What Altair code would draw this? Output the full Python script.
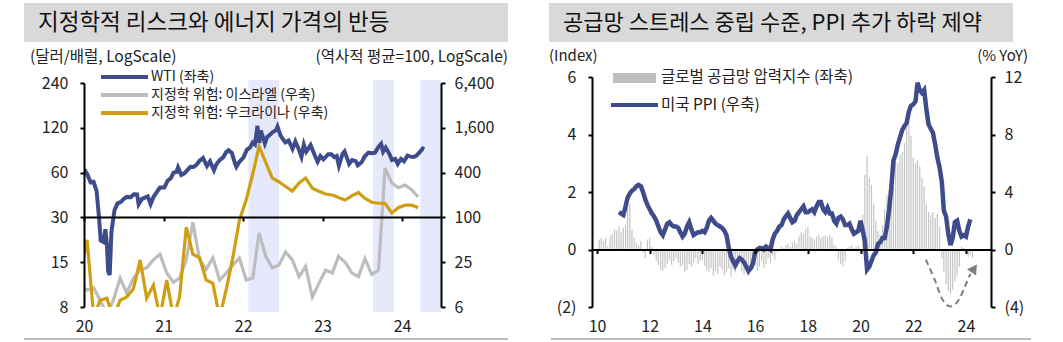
import json
import altair as alt
import pandas as pd

FONT = "Noto Sans CJK KR"
NAVY = "#3E4C8B"
GOLD = "#CF9E12"
LGRAY = "#BDBDBD"
BAND = "#E5E9FB"
TXT = "#222222"

# ---------------- left panel data ----------------
left_title = "지정학적 리스크와 에너지 가격의 반등"
left_axis_title_l = "(달러/배럴, LogScale)"
left_axis_title_r = "(역사적 평균=100, LogScale)"
left_legend = ["WTI (좌축)", "지정학 위험: 이스라엘 (우축)", "지정학 위험: 우크라이나 (우축)"]

wti_dates = [
    "2020-01-02", "2020-01-16", "2020-01-31", "2020-02-14", "2020-02-28", "2020-03-09", "2020-03-18",
    "2020-03-31", "2020-04-08", "2020-04-15", "2020-04-21", "2020-04-28", "2020-05-06", "2020-05-20",
    "2020-06-03", "2020-06-17", "2020-07-01", "2020-07-15", "2020-08-03", "2020-08-17", "2020-09-01",
    "2020-09-08", "2020-09-22", "2020-10-06", "2020-10-20", "2020-11-02", "2020-11-16", "2020-12-01",
    "2020-12-15",
    "2021-01-04", "2021-01-19", "2021-02-02", "2021-02-16", "2021-03-01", "2021-03-08", "2021-03-23",
    "2021-04-06", "2021-04-20", "2021-05-04", "2021-05-18", "2021-06-01", "2021-06-15", "2021-07-01",
    "2021-07-19", "2021-08-02", "2021-08-20", "2021-09-01", "2021-09-15", "2021-10-01", "2021-10-15",
    "2021-10-26", "2021-11-10", "2021-11-26", "2021-12-01", "2021-12-15",
    "2022-01-03", "2022-01-18", "2022-02-01", "2022-02-14", "2022-02-24", "2022-03-08", "2022-03-16",
    "2022-03-23", "2022-04-11", "2022-04-21", "2022-05-04", "2022-05-17", "2022-06-01", "2022-06-08",
    "2022-06-22", "2022-07-05", "2022-07-14", "2022-07-29", "2022-08-16", "2022-08-29", "2022-09-15",
    "2022-09-26", "2022-10-07", "2022-10-18", "2022-11-07", "2022-11-28", "2022-12-09", "2022-12-22",
    "2023-01-05", "2023-01-27", "2023-02-10", "2023-02-24", "2023-03-07", "2023-03-17", "2023-04-03",
    "2023-04-12", "2023-05-03", "2023-05-17", "2023-06-02", "2023-06-12", "2023-06-30", "2023-07-13",
    "2023-07-31", "2023-08-15", "2023-08-30", "2023-09-13", "2023-09-27", "2023-10-06", "2023-10-18",
    "2023-11-03", "2023-11-16", "2023-12-01", "2023-12-12", "2023-12-27",
    "2024-01-10", "2024-01-26", "2024-02-09", "2024-02-23", "2024-03-08", "2024-03-20", "2024-04-05",
    "2024-04-12",
]
wti_values = [
    63, 58.5, 51.6, 52, 45, 31, 21, 20.5, 25, 20, 13, 12.3, 24, 33.5, 37.3, 38, 39.8, 41.2, 41, 42.9,
    42.8, 36.8, 39.8, 40.7, 41.5, 36.8, 41.3, 44.5, 47.6,
    47.6, 52.9, 54.8, 60, 60.6, 65, 57.8, 59.3, 62.4, 65.7, 65.5, 67.7, 72.1, 75.2, 66.4, 71.3, 62.3,
    68.6, 72.6, 75.9, 82.3, 84.6, 81.3, 68.2, 65.6, 70.9,
    76, 85.4, 88.2, 95.5, 92.8, 123.7, 95, 114.9, 94.3, 103.8, 107.8, 112.4, 115.3, 122.1, 106.2, 99.5,
    95.8, 98.6, 86.5, 97, 85.1, 76.7, 92.6, 82.8, 91.8, 77.2, 71, 77.5,
    73.7, 79.7, 79.7, 76.3, 77.6, 66.7, 80.4, 83.3, 68.6, 72.8, 71.7, 67.1, 70.6, 77, 81.8, 80.9, 81.6,
    88.5, 93.7, 82.8, 88.3, 80.5, 72.9, 74.1, 68.6, 74.1,
    71.4, 78, 76.8, 76.5, 78, 81.7, 86.9, 85.7,
]

# monthly geopolitical risk indices (mid-month), Dec 2019 .. Mar 2024
gpr_months = [d.strftime("%Y-%m-15") for d in pd.date_range("2019-12-01", "2024-03-01", freq="MS")]
israel_gpr = [
    12,
    10.6, 11.3, 7.7, 5, 7.7, 15.3, 9.6, 15.3, 19.6, 21, 27, 32,
    17.9, 13.4, 15.3, 26.8, 86, 27, 20, 28.6, 14.4, 17.9, 22.9, 28.6,
    14.4, 15.3, 61.6, 30, 20.9, 22.9, 34.4, 26.8, 16, 22, 8.5, 13,
    19.6, 17.9, 30, 25, 18, 16, 28, 17, 19.6, 460, 291, 250,
    272, 234, 188,
]
ukraine_gpr = [
    17,
    50, 4.5, 7.7, 8.2, 4.5, 7.7, 8.5, 11, 26.8, 8.2, 12.3, 4.5,
    14.4, 4.5, 8.5, 74, 32, 28.6, 14.4, 13, 4.5, 10.6, 29, 92,
    171, 392, 900, 550, 338, 300, 260, 226, 290, 338, 247, 225,
    206, 200, 185, 171, 195, 216, 180, 160, 155, 155, 115, 135,
    146, 146, 135,
]
band_start = ["2022-01-25", "2023-08-20", "2024-03-25"]
band_end = ["2022-06-15", "2023-11-25", "2024-06-28"]

wti_ticks = [7.5, 15, 30, 60, 120, 240]
wti_tick_labels = ["8", "15", "30", "60", "120", "240"]
gpr_ticks = [6.25, 25, 100, 400, 1600, 6400]
gpr_tick_labels = ["6", "25", "100", "400", "1,600", "6,400"]
left_years = [2020, 2021, 2022, 2023, 2024]

# ---------------- right panel data ----------------
right_title = "공급망 스트레스 중립 수준, PPI 추가 하락 제약"
right_axis_title_l = "(Index)"
right_axis_title_r = "(% YoY)"
right_legend = ["글로벌 공급망 압력지수 (좌축)", "미국 PPI (우축)"]

gscpi_months = [d.strftime("%Y-%m-%d") for d in pd.date_range("2010-01-01", "2024-04-01", freq="MS")]
gscpi_values = [
    0.05, 0.35, 0.40, 0.30, 0.42, 0.10, 0.45, 0.55, 0.70, 0.65, 0.80, 0.60,
    0.75, 0.85, 1.45, 1.60, 0.70, 0.40, 0.25, 0.15, 0.30, -0.10, -0.30, 0.35,
    0.40, 0.10, -0.20, -0.40, -0.55, -0.70, -0.75, -0.65, -0.50, -0.35, -0.55, -0.40,
    -0.30, -0.45, -0.60, -0.55, -0.80, -0.70, -0.50, -0.60, -0.45, -0.30, -0.50, -0.40,
    -0.35, -0.55, -0.70, -0.80, -0.65, -0.90, -0.75, -0.85, -0.60, -0.70, -0.90, -0.80,
    -0.65, -0.95, -0.70, -0.80, -0.60, -0.50, -0.75, -0.85, -0.70, -0.90, -0.60, -0.70,
    -0.55, -0.75, -0.60, -0.40, -0.65, -0.50, -0.30, -0.45, -0.20, -0.35, -0.10, -0.05,
    0.10, 0.05, 0.15, 0.20, 0.10, 0.25, 0.30, 0.20, 0.45, 0.60, 0.55, 0.70,
    0.80, 0.45, 0.40, 0.35, 0.45, 0.50, 0.40, 0.45, 0.50, 0.45, 0.50, 0.40,
    0.15, 0.10, -0.35, -0.50, -0.60, -0.40, 0.05, 0.10, 0.15, 0.05, 0.10, 0.15,
    -0.10, 1.20, 2.60, 3.25, 2.50, 2.25, 1.60, 1.00, 0.65, 0.50, 0.85, 1.40,
    1.90, 2.10, 2.40, 2.80, 3.10, 3.00, 3.30, 3.40, 3.70, 4.25, 4.35, 3.95,
    3.20, 3.00, 3.10, 2.90, 2.50, 2.20, 1.60, 1.30, 1.20, 1.30, 1.10, 1.25,
    0.80, -0.30, -0.80, -1.20, -1.45, -1.55, -1.40, -1.10, -0.95, -0.60, 0.10, 0.05,
    -0.10, -0.25, -0.20, -0.30,
]
ppi_months = [d.strftime("%Y-%m-%d") for d in pd.date_range("2010-11-01", "2024-03-01", freq="MS")]
ppi_values = [
    2.6, 2.5,
    2.4, 3.0, 3.6, 3.9, 4.1, 4.2, 4.4, 4.5, 4.4, 4.0, 3.5, 3.1,
    2.8, 2.5, 2.3, 2.0, 1.6, 1.2, 1.0, 1.4, 1.8, 1.9, 1.7, 1.6,
    1.6, 1.5, 1.2, 0.9, 1.1, 1.6, 1.9, 1.4, 1.0, 1.1, 1.2, 1.2,
    1.3, 1.2, 1.5, 2.0, 2.2, 2.0, 1.8, 1.7, 1.6, 1.5, 1.3, 1.0,
    0.1, -0.5, -0.8, -1.1, -0.8, -0.6, -0.7, -0.9, -1.2, -1.5, -1.3, -1.0,
    -0.2, 0.0, 0.1, 0.1, 0.0, 0.2, 0.1, 0.0, 0.7, 1.1, 1.3, 1.6,
    1.7, 2.1, 2.3, 2.5, 2.2, 1.9, 2.0, 2.4, 2.6, 2.8, 3.0, 2.6,
    2.6, 2.7, 2.8, 2.6, 3.0, 3.3, 3.3, 2.8, 2.6, 2.9, 2.5, 2.5,
    2.0, 1.8, 2.2, 2.3, 2.1, 1.7, 1.7, 1.8, 1.4, 1.1, 1.2, 1.3,
    2.0, 1.3, 0.6, -1.4, -1.2, -0.8, -0.4, -0.2, 0.4, 0.5, 0.8, 0.8,
    1.6, 2.8, 4.2, 6.2, 6.6, 7.3, 7.8, 8.3, 8.6, 8.8, 9.6, 10.0,
    10.1, 10.3, 11.6, 11.1, 10.9, 11.1, 9.8, 8.7, 8.4, 8.1, 7.3, 6.4,
    5.7, 4.7, 2.7, 2.3, 1.1, 0.3, 0.8, 1.9, 2.0, 1.3, 0.9, 1.0,
    0.9, 1.6, 2.1,
]
# dashed "rebound" arrow (in index units)
arrow_dates = ["2022-06-24", "2022-10-23", "2023-02-10", "2023-05-30", "2023-09-27", "2023-12-17", "2024-03-01"]
arrow_values = [-0.35, -1.04, -1.74, -1.98, -1.74, -1.29, -0.85]
arrow_head_date = ["2024-04-25"]
arrow_head_value = [-0.66]

idx_ticks = [-2, 0, 2, 4, 6]
idx_tick_labels = ["(2)", "0", "2", "4", "6"]
ppi_ticks = [-4, 0, 4, 8, 12]
ppi_tick_labels = ["(4)", "0", "4", "8", "12"]
right_years = [2010, 2012, 2014, 2016, 2018, 2020, 2022, 2024]


# ---------------- helpers ----------------
def label_expr(vals, labs):
    return json.dumps(labs, ensure_ascii=False) + "[indexof(" + json.dumps(vals) + ", datum.value)]"


ONE = pd.DataFrame({"k": [0]})


def px_rect(x1, x2, y1, y2, color):
    return alt.Chart(ONE).mark_rect(color=color).encode(
        x=alt.value(x1), x2=alt.value(x2), y=alt.value(y1), y2=alt.value(y2))


def px_rule(x1, x2, y, color, width):
    return alt.Chart(ONE).mark_rule(color=color, strokeWidth=width).encode(
        x=alt.value(x1), x2=alt.value(x2), y=alt.value(y))


def px_text(x, y, text, size, align="left", color=TXT):
    return alt.Chart(pd.DataFrame({"t": [text]})).mark_text(
        align=align, baseline="middle", fontSize=size, color=color, font=FONT
    ).encode(x=alt.value(x), y=alt.value(y), text="t:N")


def dt(y, m=1, d=1):
    return alt.DateTime(year=y, month=m, date=d)


# ---------------- left chart ----------------
LW, LH = 357, 230
lx_scale = alt.Scale(domain=[dt(2020), dt(2024, 6, 28)], nice=False)
lx_axis = alt.Axis(values=[dt(y) for y in left_years], format="%y", labelFlush=False, offset=-90,
                   tickSize=4, labelPadding=97, title=None, zindex=1)


def lx(field):
    return alt.X(field, type="temporal", scale=lx_scale, axis=lx_axis)


bands_df = pd.DataFrame({"start": band_start, "end": band_end})
bands = alt.Chart(bands_df).mark_rect(color=BAND).encode(
    x=lx("start"), x2="end:T", y=alt.value(3), y2=alt.value(235))

n = len(gpr_months)
gpr_df = pd.DataFrame({
    "date": gpr_months * 2,
    "value": israel_gpr + ukraine_gpr,
    "series": ["이스라엘"] * n + ["우크라이나"] * n,
})
gpr = alt.Chart(gpr_df).mark_line(clip=True, strokeWidth=3.2).encode(
    x=lx("date"),
    y=alt.Y("value:Q",
            scale=alt.Scale(type="log", domain=[6.25, 6400], range=[LH, 6], nice=False),
            axis=alt.Axis(orient="right", values=gpr_ticks, labelExpr=label_expr(gpr_ticks, gpr_tick_labels),
                          tickSize=4, labelPadding=9, title=None, zindex=1)),
    color=alt.Color("series:N", scale=alt.Scale(domain=["이스라엘", "우크라이나"], range=[LGRAY, GOLD]),
                    legend=None),
)

wti_df = pd.DataFrame({"date": wti_dates, "value": wti_values})
wti = alt.Chart(wti_df).mark_line(clip=True, strokeWidth=4, color=NAVY).encode(
    x=lx("date"),
    y=alt.Y("value:Q",
            scale=alt.Scale(type="log", domain=[7.5, 240], range=[LH, 6], nice=False),
            axis=alt.Axis(orient="left", values=wti_ticks, labelExpr=label_expr(wti_ticks, wti_tick_labels),
                          tickSize=4, labelPadding=12, title=None, zindex=1)),
)

left = alt.layer(
    px_rect(-60, 424, -74, -35, "#D9D9D9"),
    px_text(-46, -54, left_title, 22.5, color="#111111"),
    px_rule(-60, 424, 262, "#A6A6A6", 1.5),
    px_text(-54, -20, left_axis_title_l, 15.5),
    px_text(424, -20, left_axis_title_r, 15.5, align="right"),
    bands,
    gpr,
    wti,
    px_rule(17, 64, 0, NAVY, 4),
    px_text(67, 0, left_legend[0], 14),
    px_rule(17, 64, 18, LGRAY, 4),
    px_text(67, 18, left_legend[1], 14),
    px_rule(17, 64, 36, GOLD, 4),
    px_text(67, 36, left_legend[2], 14),
).resolve_scale(y="independent").properties(width=LW, height=LH)

# ---------------- right chart ----------------
RW, RH = 399, 230
rx_scale = alt.Scale(domain=[dt(2010), dt(2024, 10, 5)], nice=False)
rx_axis = alt.Axis(values=[dt(y) for y in right_years], format="%y", labelFlush=False, offset=-57.5,
                   tickSize=4, labelPadding=65, title=None, zindex=1)


def rx(field):
    return alt.X(field, type="temporal", scale=rx_scale, axis=rx_axis)


def ry_idx(field):
    return alt.Y(field, type="quantitative", scale=alt.Scale(domain=[-2, 6], nice=False),
                 axis=alt.Axis(orient="left", values=idx_ticks, labelExpr=label_expr(idx_ticks, idx_tick_labels),
                               tickSize=4, labelPadding=12, title=None, zindex=1))


gscpi_df = pd.DataFrame({"date": gscpi_months, "value": gscpi_values})
bars = alt.Chart(gscpi_df).mark_bar(width=1.2, color="#C4C4C4").encode(
    x=rx("date"), y=ry_idx("value"), y2=alt.datum(0))

arrow_df = pd.DataFrame({"date": arrow_dates, "value": arrow_values})
arrow = alt.Chart(arrow_df).mark_line(strokeDash=[6, 4], strokeWidth=2, color="#7F7F7F",
                                      interpolate="monotone").encode(x=rx("date"), y=ry_idx("value"))
head_df = pd.DataFrame({"date": arrow_head_date, "value": arrow_head_value})
head = alt.Chart(head_df).mark_point(shape="triangle-up", filled=True, size=120, angle=35,
                                     color="#7F7F7F", opacity=1).encode(x=rx("date"), y=ry_idx("value"))

ppi_df = pd.DataFrame({"date": ppi_months, "value": ppi_values})
ppi = alt.Chart(ppi_df).mark_line(strokeWidth=4.5, color=NAVY).encode(
    x=rx("date"),
    y=alt.Y("value:Q", scale=alt.Scale(domain=[-4, 12], nice=False),
            axis=alt.Axis(orient="right", values=ppi_ticks, labelExpr=label_expr(ppi_ticks, ppi_tick_labels),
                          tickSize=4, labelPadding=9, title=None, zindex=1)),
)

right = alt.layer(
    px_rect(-43, 421, -74, -35, "#D9D9D9"),
    px_text(-29, -54, right_title, 22, color="#111111"),
    px_rule(-41, 439, 262, "#A6A6A6", 1.5),
    px_text(-43, -21, right_axis_title_l, 15),
    px_text(436, -21, right_axis_title_r, 15, align="right"),
    alt.layer(bars, arrow, head),
    ppi,
    px_rect(21, 64, -4, 6, "#BFBFBF"),
    px_text(69, 0, right_legend[0], 15.5),
    px_rule(19, 66, 28, NAVY, 4),
    px_text(69, 28, right_legend[1], 15.5),
).resolve_scale(y="independent").properties(width=RW, height=RH)

chart = alt.hconcat(left, right, spacing=151, bounds="flush").properties(
    padding={"left": 23, "top": 3, "right": 10, "bottom": 2},
    background="white",
).configure(font=FONT).configure_view(stroke=None).configure_axis(
    labelFont=FONT, labelFontSize=16, labelColor=TXT, domainColor="black", domainWidth=2,
    tickColor="black", tickWidth=2, grid=False,
)

chart.save("out.html", embed_options={"renderer": "svg", "actions": False})
